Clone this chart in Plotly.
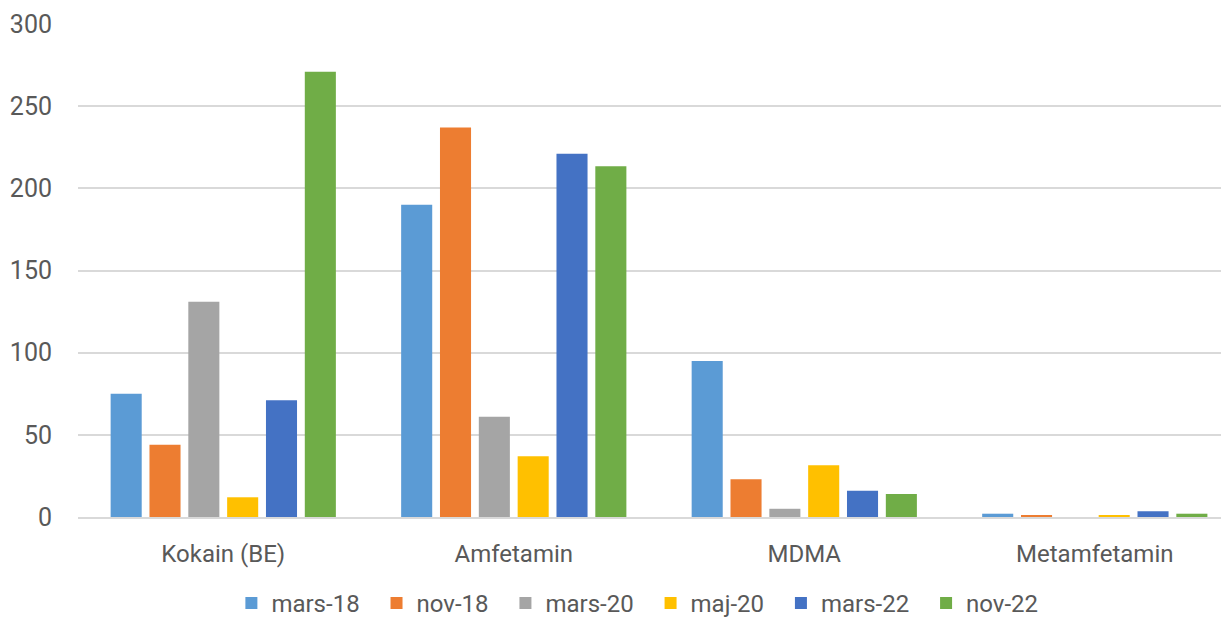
import plotly.graph_objects as go

categories = ["Kokain (BE)", "Amfetamin", "MDMA", "Metamfetamin"]
series_names = ["mars-18", "nov-18", "mars-20", "maj-20", "mars-22", "nov-22"]
mars_18 = [75, 190, 95, 2]
nov_18 = [44, 237, 23, 1]
mars_20 = [131, 61, 5, 0]
maj_20 = [12, 37, 31.5, 1]
mars_22 = [71, 221, 16, 3.5]
nov_22 = [271, 213.5, 14, 2]
series_values = [mars_18, nov_18, mars_20, maj_20, mars_22, nov_22]
colors = ["#5B9BD5", "#ED7D31", "#A5A5A5", "#FFC000", "#4472C4", "#70AD47"]
y_ticks = [0, 50, 100, 150, 200, 250, 300]

FONT = "Roboto, sans-serif"
PAD = "\u00a0\u00a0"

fig = go.Figure()
for i, (name, vals, col) in enumerate(zip(series_names, series_values, colors)):
    fig.add_trace(go.Bar(x=categories, y=vals,
                         name=name + (PAD if i < len(series_names) - 1 else ""),
                         marker=dict(color=col, line=dict(width=0))))

# page body has an 8px default margin, so the figure is sized/offset accordingly
fig.update_layout(
    width=1221, height=618,
    paper_bgcolor="white", plot_bgcolor="white",
    margin=dict(l=70, r=0, t=16, b=109),
    barmode="group", bargap=0.198, bargroupgap=0.2,
    font=dict(family=FONT, size=24, color="#595959"),
    showlegend=True,
    legend=dict(orientation="h", x=0.486, xanchor="center", xref="paper",
                yref="container", y=-0.045, yanchor="bottom",
                font=dict(size=24, color="#595959"), itemwidth=30,
                traceorder="normal"),
    xaxis=dict(range=[-0.5, 3.462], showgrid=False, showline=True,
               linecolor="#d9d9d9", linewidth=2,
               ticks="", ticklabelstandoff=14, tickfont=dict(size=24),
               automargin=False),
    yaxis=dict(range=[0, 300], tickvals=y_ticks, showgrid=True, gridcolor="#d9d9d9",
               gridwidth=1.5, zeroline=False, showline=False, ticks="",
               ticklabelstandoff=25, tickfont=dict(size=25), automargin=False),
)
fig.write_html("out.html")
